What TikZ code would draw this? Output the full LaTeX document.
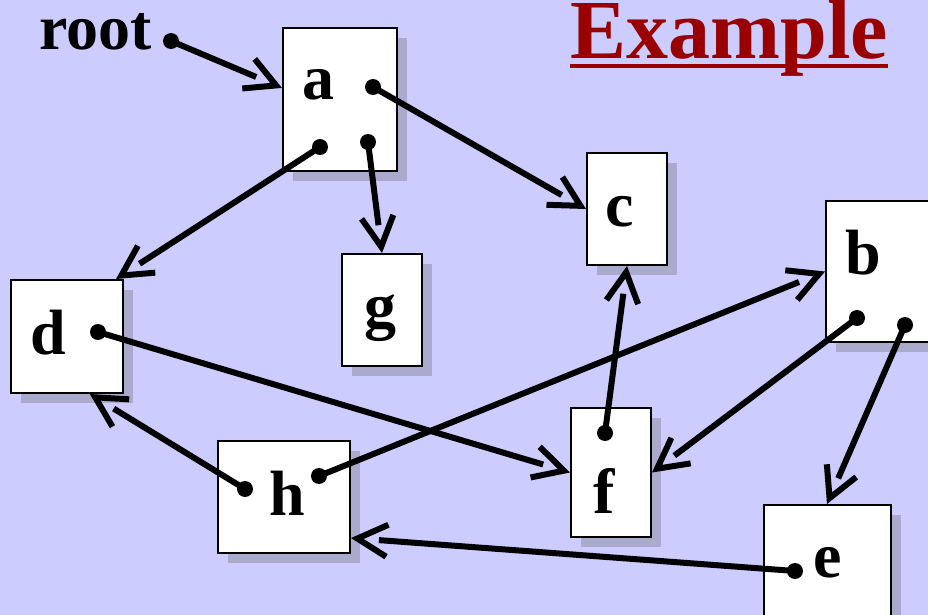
\documentclass[tikz,border=0pt]{standalone}
\usepackage{fontspec}
\setmainfont{Liberation Serif}
\usetikzlibrary{positioning,calc,shadows,arrows.meta}
\definecolor{bgblue}{RGB}{204,204,255}
\definecolor{boxshade}{RGB}{170,170,204}
\definecolor{darkred}{RGB}{153,0,0}
\tikzset{
    box/.style={draw, line width=1pt, fill=white, inner sep=0pt,
        drop shadow={shadow xshift=5pt, shadow yshift=-5pt, fill=boxshade, opacity=1}},
    lbl/.style={anchor=base, inner sep=0pt, font=\bfseries\fontsize{32}{32}\selectfont},
    ptr/.style={circle, fill=black, inner sep=0pt, minimum size=8pt},
    link/.style={line width=3pt, shorten >=14pt,
        postaction={draw, shorten >=0pt, dash pattern=on 0pt off 2000pt,
            -{Straight Barb[length=15pt,width=16pt]}}}
}

\begin{document}
\begin{tikzpicture}[x=0.5pt, y=-0.5pt]
    \useasboundingbox (0,0) rectangle (928,615);
    \clip (0,0) rectangle (928,615);
    \fill [bgblue] (0,0) rectangle (928,615);
    % boxes
    \node [box, minimum width=57pt, minimum height=71.5pt] (a) at (340,99.5) {};
    \node [box, minimum width=40pt, minimum height=56pt] (c) at (627,209) {};
    \node [box, minimum width=40pt, minimum height=56pt] (g) at (382,310) {};
    \node [box, minimum width=56pt, minimum height=56.5pt] (d) at (67,336.5) {};
    \node [box, minimum width=57pt, minimum height=70.5pt] (b) at (883,271.5) {};
    \node [box, minimum width=66pt, minimum height=56pt] (h) at (284,497) {};
    \node [box, minimum width=40pt, minimum height=64.5pt] (f) at (611,472.5) {};
    \node [box, minimum width=63.5pt, minimum height=70pt] (e) at (827,575) {};
    % labels
    \node [lbl, anchor=base east] (root) at (152,50) {root};
    \node [lbl] (la) at (318,100) {a};
    \node [lbl] (lc) at (620,227) {c};
    \node [lbl] (lg) at (380,328) {g};
    \node [lbl] (ld) at (48,355) {d};
    \node [lbl] (lb) at (863,275) {b};
    \node [lbl] (lh) at (287,515) {h};
    \node [lbl] (lf) at (604,513) {f};
    \node [lbl] (le) at (828,577) {e};
    \node [anchor=base west, inner sep=0pt, text=darkred, font=\bfseries\fontsize{42}{42}\selectfont] (title) at (570,59) {Example};
    \draw [darkred, line width=2pt] ([yshift=-3.5pt]title.base west) -- ([yshift=-3.5pt]title.base east);
    % pointers
    \node [ptr] (r0) at (171,41) {};
    \node [ptr] (a1) at (373,87) {};
    \node [ptr] (a2) at (320,147) {};
    \node [ptr] (a3) at (368,142) {};
    \node [ptr] (d1) at (98,332) {};
    \node [ptr] (h1) at (245,489) {};
    \node [ptr] (h2) at (319,476) {};
    \node [ptr] (f1) at (605,433) {};
    \node [ptr] (b1) at (857,318) {};
    \node [ptr] (b2) at (905,325) {};
    \node [ptr] (e1) at (795,571) {};
    \draw [link] (r0.center) -- ($(a.north west)!0.42!(a.south west)$);
    \draw [link] (a1.center) -- (c.west);
    \draw [link] (a2.center) -- ($(d.north west)!0.93!(d.north east)$);
    \draw [link] (a3.center) -- (g.north);
    \draw [link] (d1.center) -- (f.west);
    \draw [link] (h1.center) -- ($(d.south west)!0.70!(d.south east)$);
    \draw [link] (h2.center) -- (b.west);
    \draw [link] (f1.center) -- (c.south);
    \draw [link] (b1.center) -- (f.east);
    \draw [link] (b2.center) -- (e.north);
    \draw [link] (e1.center) -- ($(h.north east)!0.86!(h.south east)$);
\end{tikzpicture}
\end{document}
